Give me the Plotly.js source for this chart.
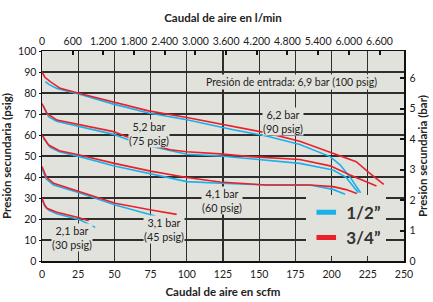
<!DOCTYPE html>
<html>
<head>
<meta charset="utf-8">
<script src="https://cdn.plot.ly/plotly-3.0.1.min.js"></script>
<style>
html,body{margin:0;padding:0;background:#fff;}
#chart{width:433px;height:302px;}
</style>
</head>
<body>
<div id="chart"></div>
<script>
// ---- data (scfm, psig) ----
var x90_34 = [0, 2, 5.7, 12.6, 26, 49.4, 73.6, 100, 132, 155, 178, 201, 217, 226, 236];
var y90_34 = [90, 87.5, 85.4, 82.2, 79.8, 75.6, 71.5, 68.3, 64, 61, 57, 51.5, 47.3, 42, 36.5];
var x90_12 = [2.3, 5, 10.3, 26, 49.4, 73.6, 100, 132, 155, 178, 199, 206, 213, 220];
var y90_12 = [85.4, 84, 82.2, 79.4, 74.7, 70.5, 67.3, 62.5, 59.5, 55.5, 49.7, 45.7, 39.7, 32.5];

var x75_34 = [0, 3.4, 10.3, 26, 49.4, 58.6, 75, 88.5, 100, 123, 144, 178, 199, 212.8, 231];
var y75_34 = [75, 70.3, 67.1, 64.8, 61.6, 59.2, 55.5, 53, 52, 51, 49.7, 48.3, 45.3, 41, 35.7];
var x75_12 = [1.1, 4.6, 10, 26, 49.4, 58.6, 75.9, 100, 123, 144, 178, 201, 210, 218.5];
var y75_12 = [73.5, 68.7, 66.5, 64, 60.3, 58, 54.5, 50.8, 50, 48.7, 46.5, 43.3, 39.8, 32.5];

var x60_34 = [0, 4.6, 12, 26, 50, 75, 100, 123, 155, 185, 201, 210, 217.4];
var y60_34 = [60, 55.2, 52.5, 50.5, 46.5, 42.8, 39.8, 37.6, 36.2, 36.2, 35.4, 34, 32.2];
var x60_12 = [1, 5.7, 12, 26, 50, 75, 100, 123, 155, 185, 201, 209.3];
var y60_12 = [58.4, 54.1, 52, 49.7, 45.2, 41.6, 37.8, 37, 36.2, 36.2, 34.1, 31.8];

var x45_34 = [0, 1, 3, 8, 25.7, 50.6, 75.4, 93];
var y45_34 = [45, 43, 40, 37, 33, 27.5, 24.3, 22.2];
var x45_12 = [0, 1, 3, 8, 25.7, 50.6, 75.4, 78.2];
var y45_12 = [44, 42, 39, 36.2, 32.5, 26.7, 21.9, 21.4];

var x30_34 = [0, 1.5, 3.4, 10.3, 25.7, 32.2];
var y30_34 = [30, 27, 25.1, 23.2, 20.6, 19.2];
var x30_12 = [0.5, 2, 4.6, 10, 25.7, 36.8];
var y30_12 = [29, 26, 24.3, 22.5, 19.8, 16];

var seriesNames = ['1/2\u201D', '3/4\u201D'];
var topTickVals = [0, 600, 1200, 1800, 2400, 3000, 3600, 4200, 4800, 5400, 6000, 6600];
var topTickText = ['0', '600', '1.200', '1.800', '2.400', '3.000', '3.600', '4.200', '4.800', '5.400', '6.000', '6.600'];
var barTicks = [0, 1, 2, 3, 4, 5, 6];
var labelText = ['2,1 bar<br>(30 psig)', '3,1 bar<br>(45 psig)', '4,1 bar<br>(60 psig)', '5,2 bar<br>(75 psig)', '6,2 bar<br>(90 psig)'];
var labelX = [20.7, 84, 124.2, 73.6, 166.7];
var labelY = [11.1, 14.8, 29, 60.8, 66.6];
var inletText = 'Presi\u00f3n de entrada: 6,9 bar (100 psig)';

var LPM_PER_SCFM = 28.3168;
var PSI_PER_BAR = 14.5038;
var X_MAX = 250, Y_MAX = 100;

var BLUE = '#1ab0ea', RED = '#e8212b', BG = '#e2e2dd', GRID = '#2e2e2e', TXT = '#222';
var FONT = 'Lato, sans-serif';

function line(x, y, c) {
  return {x: x, y: y, type: 'scatter', mode: 'lines', line: {color: c, width: 1.6},
          showlegend: false, hoverinfo: 'skip'};
}
var traces = [
  line(x90_12, y90_12, BLUE), line(x90_34, y90_34, RED),
  line(x75_12, y75_12, BLUE), line(x75_34, y75_34, RED),
  line(x60_12, y60_12, BLUE), line(x60_34, y60_34, RED),
  line(x45_12, y45_12, BLUE), line(x45_34, y45_34, RED),
  line(x30_12, y30_12, BLUE), line(x30_34, y30_34, RED),
  {x: [null], y: [null], type: 'scatter', mode: 'markers', name: seriesNames[0],
   marker: {symbol: 'line-ew-open', size: 14, color: BLUE, line: {color: BLUE, width: 5}}},
  {x: [null], y: [null], type: 'scatter', mode: 'markers', name: seriesNames[1],
   marker: {symbol: 'line-ew-open', size: 14, color: RED, line: {color: RED, width: 5}}},
  {x: [null], y: [null], xaxis: 'x2', yaxis: 'y2', type: 'scatter', mode: 'markers',
   showlegend: false, hoverinfo: 'skip'}
];

var annotations = labelText.map(function (t, i) {
  return {x: labelX[i], y: labelY[i], xref: 'x', yref: 'y', text: t, showarrow: false,
          bgcolor: BG, borderpad: 0, font: {family: FONT, size: 10.8, color: TXT}};
});
annotations.push({x: 172.4, y: 85.4, xref: 'x', yref: 'y', text: inletText, showarrow: false,
  bgcolor: BG, borderpad: 1, font: {family: FONT, size: 10.5, color: TXT}});

var axTitleFont = {family: FONT, size: 11.5, color: TXT, weight: 'bold'};
var tickFont = {family: FONT, size: 10.5, color: TXT};

var layout = {
  width: 433, height: 302,
  margin: {l: 42, r: 29, t: 51, b: 41},
  paper_bgcolor: '#ffffff', plot_bgcolor: BG,
  font: {family: FONT, color: TXT},
  showlegend: true,
  legend: {x: 0.73, y: 0.17, xanchor: 'left', yanchor: 'middle', bgcolor: BG,
           font: {family: FONT, size: 17, color: '#333', weight: 'bold'},
           itemwidth: 30, tracegroupgap: 0},
  xaxis: {range: [0, X_MAX], dtick: 25, tick0: 0, showgrid: true, gridcolor: GRID, gridwidth: 1.2,
          showline: true, linecolor: '#111', linewidth: 1.5, ticks: '', zeroline: false,
          tickfont: tickFont, fixedrange: true, ticklabelstandoff: 3,
          title: {text: 'Caudal de aire en scfm', font: axTitleFont, standoff: 9}},
  yaxis: {range: [0, Y_MAX], dtick: 10, tick0: 0, showgrid: true, gridcolor: GRID, gridwidth: 1.2,
          showline: true, linecolor: '#111', linewidth: 1.5, ticks: 'outside', ticklen: 2,
          tickcolor: '#111', zeroline: false, tickfont: tickFont,
          title: {text: 'Presi\u00f3n secundaria (psig)', font: axTitleFont, standoff: 6}},
  xaxis2: {overlaying: 'x', side: 'top', anchor: 'y', range: [0, X_MAX * LPM_PER_SCFM],
           tickvals: topTickVals, ticktext: topTickText, showgrid: false, zeroline: false,
           showline: true, linecolor: '#111', linewidth: 1.5, ticks: 'inside', ticklen: 4,
           tickwidth: 2, tickcolor: '#111', tickfont: tickFont,
           title: {text: 'Caudal de aire en l/min', font: axTitleFont, standoff: 10}},
  yaxis2: {overlaying: 'y', side: 'right', anchor: 'x', range: [0, Y_MAX / PSI_PER_BAR],
           tickvals: barTicks, showgrid: false, zeroline: false,
           showline: true, linecolor: '#111', linewidth: 1.5, ticks: 'inside', ticklen: 4,
           tickwidth: 2, tickcolor: '#111', tickfont: tickFont, ticklabelstandoff: 2,
           title: {text: 'Presi\u00f3n secundaria (bar)', font: axTitleFont, standoff: 4}},
  annotations: annotations
};

Plotly.newPlot('chart', traces, layout, {staticPlot: true, displayModeBar: false});
</script>
</body>
</html>
